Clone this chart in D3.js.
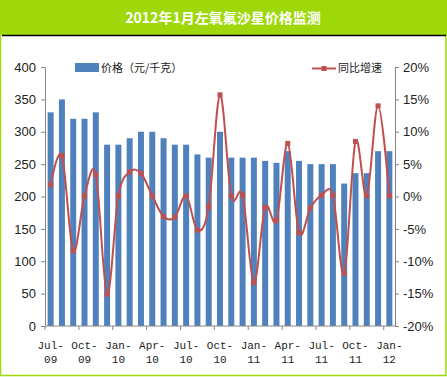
<!DOCTYPE html>
<html><head><meta charset="utf-8">
<script src="https://cdn.jsdelivr.net/npm/d3@7"></script>
<style>body{margin:0;background:#fff}svg{display:block}</style>
</head><body><svg id="c" width="447" height="377"></svg>
<script>
const title = "2012年1月左氧氟沙星价格监测";
const months = ["Jul-09","Aug-09","Sep-09","Oct-09","Nov-09","Dec-09","Jan-10","Feb-10","Mar-10","Apr-10","May-10","Jun-10","Jul-10","Aug-10","Sep-10","Oct-10","Nov-10","Dec-10","Jan-11","Feb-11","Mar-11","Apr-11","May-11","Jun-11","Jul-11","Aug-11","Sep-11","Oct-11","Nov-11","Dec-11","Jan-12"];
const price = [330,350,320,320,330,280,280,290,300,300,290,280,280,265,260,300,260,260,260,255,252,270,255,250,250,250,220,236,236,270,270];
const yoy = [1.8,6.3,-8.4,0.1,3.4,-15.1,0.1,3.8,3.6,0.1,-3.1,-3.2,0.1,-5.2,-1.6,15.7,0.1,0.2,-13.3,-1.7,-3.7,8.2,-5.6,-1.8,0.2,0.2,-11.9,8.5,0.1,14.0,0.1];
const leftTicks = [0,50,100,150,200,250,300,350,400];
const rightTicks = [-20,-15,-10,-5,0,5,10,15,20];
const seriesNames = ["价格（元/千克）","同比增速"];

const green = "#9ED80B", barColor = "#4F81BD", lineColor = "#C0504D", axisColor = "#868686";
const svg = d3.select("#c");
// frame
svg.append("rect").attr("x",0.5).attr("y",0.5).attr("width",445.5).attr("height",375).attr("fill","#fff").attr("stroke",green).attr("stroke-width",1.5);
svg.append("rect").attr("x",0).attr("y",0).attr("width",447).attr("height",35).attr("fill",green);
svg.append("line").attr("x1",2).attr("x2",446).attr("y1",35.5).attr("y2",35.5).attr("stroke","#000").attr("stroke-width",1.5);
svg.append("text").attr("x",223).attr("y",23).attr("text-anchor","middle")
  .attr("font-family","'Noto Sans CJK SC'").attr("font-weight","bold").attr("font-size",14)
  .attr("fill","#fff").text(title);

const L = 45, R = 395, T = 67, B = 326;
const x = d3.scaleBand().domain(months).range([L,R]).paddingInner(0.47).paddingOuter(0.235);
const xb = d3.scaleBand().domain(months).range([L,R]);
const yL = d3.scaleLinear().domain([0,400]).range([B,T]);
const yR = d3.scaleLinear().domain([-20,20]).range([B,T]);

svg.append("g").selectAll("rect").data(months).join("rect")
  .attr("x",d=>x(d)).attr("width",x.bandwidth())
  .attr("y",(d,i)=>yL(price[i])).attr("height",(d,i)=>B-yL(price[i])).attr("fill",barColor);

const tickFont = "'Liberation Sans', Arial, sans-serif";
// left axis
const gl = svg.append("g").attr("transform",`translate(${L},0)`).call(d3.axisLeft(yL).tickValues(leftTicks).tickSize(4).tickPadding(5));
// right axis
const gr = svg.append("g").attr("transform",`translate(${R},0)`).call(d3.axisRight(yR).tickValues(rightTicks).tickSize(4).tickPadding(4).tickFormat(d=>d+"%"));
[gl,gr].forEach(g=>{
  g.select(".domain").attr("stroke",axisColor);
  g.selectAll(".tick line").attr("stroke",axisColor);
  g.selectAll("text").attr("font-family",tickFont).attr("font-size",13).attr("fill","#222");
});
// bottom axis
const gb = svg.append("g").attr("transform",`translate(0,${B})`);
gb.append("line").attr("x1",L).attr("x2",R).attr("stroke",axisColor);
const labIdx = months.map((d,i)=>i).filter(i=>i%3===0);
gb.selectAll("line.t").data(labIdx).join("line").attr("class","t")
  .attr("x1",i=>xb(months[i])).attr("x2",i=>xb(months[i])).attr("y1",0).attr("y2",4).attr("stroke",axisColor);
const lab = gb.selectAll("text").data(labIdx).join("text")
  .attr("text-anchor","middle").attr("font-family","'Liberation Mono', monospace").attr("font-size",11).attr("fill","#222");
lab.append("tspan").attr("x",i=>x(months[i])+x.bandwidth()/2).attr("y",23).text(i=>months[i].split("-")[0]+"-");
lab.append("tspan").attr("x",i=>x(months[i])+x.bandwidth()/2).attr("y",37).text(i=>months[i].split("-")[1]);

// line
const cx = i=>x(months[i])+x.bandwidth()/2;
const line = d3.line().x((d,i)=>cx(i)).y(d=>yR(d)).curve(d3.curveCatmullRom.alpha(0));
svg.append("path").datum(yoy).attr("d",line).attr("fill","none").attr("stroke",lineColor).attr("stroke-width",2);
svg.append("g").selectAll("rect").data(yoy).join("rect")
  .attr("x",(d,i)=>cx(i)-2.5).attr("y",d=>yR(d)-2.5).attr("width",5).attr("height",5).attr("fill",lineColor);

// legend
const legFont = "'Noto Sans CJK SC'";
svg.append("rect").attr("x",75).attr("y",63).attr("width",24).attr("height",9).attr("fill",barColor);
svg.append("text").attr("x",101).attr("y",72).attr("font-family",legFont).attr("font-size",11).attr("fill","#222").text(seriesNames[0]);
svg.append("line").attr("x1",312).attr("x2",336).attr("y1",68.5).attr("y2",68.5).attr("stroke",lineColor).attr("stroke-width",2);
svg.append("rect").attr("x",321.5).attr("y",66).attr("width",5).attr("height",5).attr("fill",lineColor);
svg.append("text").attr("x",338).attr("y",72).attr("font-family",legFont).attr("font-size",11).attr("fill","#222").text(seriesNames[1]);
</script></body></html>
